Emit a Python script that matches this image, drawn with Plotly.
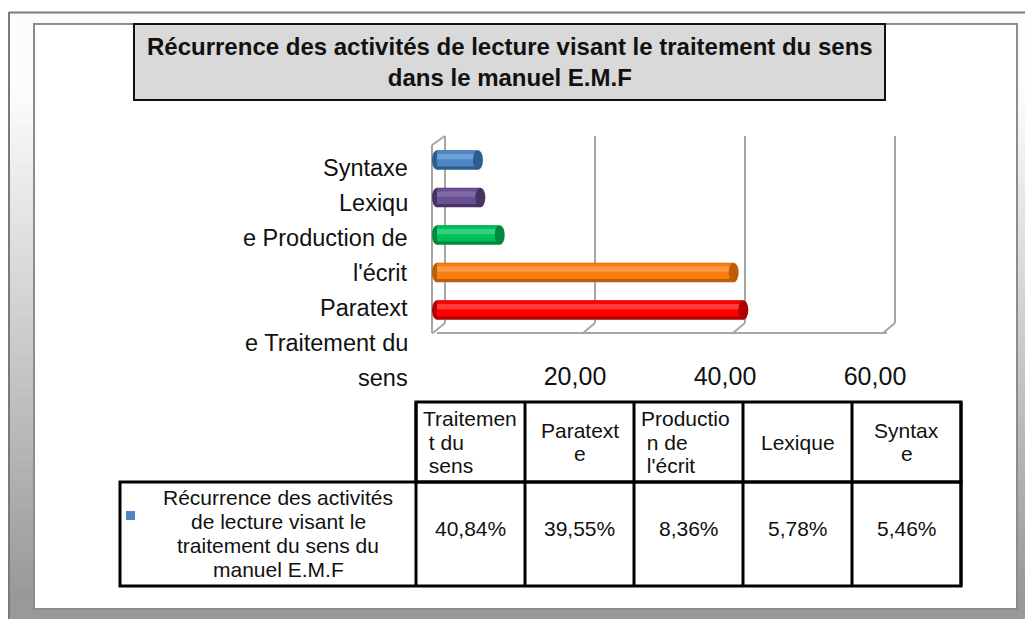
import plotly.graph_objects as go

# ---- data ----
categories = ["Traitement du sens", "Paratexte", "Production de l'écrit", "Lexique", "Syntaxe"]
values = [40.84, 39.55, 8.36, 5.78, 5.46]
series_name = "Récurrence des activités de lecture visant le traitement du sens du manuel E.M.F"
series_lines = ["Récurrence des activités", "de lecture visant le", "traitement du sens du", "manuel E.M.F"]
header_lines = [["Traitemen", "\u00a0t du", "\u00a0sens"], ["Paratext", "e"],
                ["Productio", "\u00a0n de", "\u00a0l'écrit"], ["Lexique"], ["Syntax", "e"]]
axis_label_lines = ["Syntaxe", "Lexiqu", "e Production de", "l'écrit", "Paratext", "e Traitement du", "sens"]
tick_vals = [20, 40, 60]
tick_text = ["20,00", "40,00", "60,00"]
title_text = "Récurrence des activités de lecture visant le traitement du sens<br>dans le manuel E.M.F"

# cylinder colours: base, dark (shadow / end face), light (highlight)
base_cols = ["#ff0000", "#fb7d10", "#00bf5a", "#6b5193", "#4d85c5"]
dark_cols = ["#b00000", "#bf5e08", "#00883f", "#463463", "#305c90"]
light_cols = ["#ff3c3c", "#ff9a42", "#30d27e", "#8168a8", "#6e9fd8"]

W, H = 1025, 619
FONT = "Liberation Sans, Arial, sans-serif"
NARROW = "Liberation Sans Narrow, Liberation Sans, Arial, sans-serif"


def px(x):
    return x / W


def py(y):
    return 1 - y / H


positions = list(range(len(categories)))

fig = go.Figure()
shapes = []
annotations = []

# ---- outer frame with vertical grey gradient ----
n_bands = 60
top_y, bot_y = 12, H
for i in range(n_bands):
    y0 = top_y + (bot_y - top_y) * i / n_bands
    y1 = min(bot_y, top_y + (bot_y - top_y) * (i + 1) / n_bands + 0.5)
    t = max(0.0, min(1.0, (y0 - 90) / 500))
    g = int(round(252 - (252 - 153) * t))
    shapes.append(dict(type="rect", xref="paper", yref="paper", layer="below",
                       x0=px(9), x1=1, y0=py(y1), y1=py(y0),
                       fillcolor=f"rgb({g},{g},{g})", line=dict(width=0)))
shapes.append(dict(type="line", xref="paper", yref="paper", layer="below",
                   x0=px(9), x1=1, y0=py(12.5), y1=py(12.5),
                   line=dict(color="#7a7a7a", width=2)))
shapes.append(dict(type="line", xref="paper", yref="paper", layer="below",
                   x0=px(9), x1=px(9), y0=py(12), y1=0,
                   line=dict(color="#7a7a7a", width=2)))
# inner white panel
shapes.append(dict(type="rect", xref="paper", yref="paper", layer="below",
                   x0=px(34), x1=px(1017), y0=py(609), y1=py(24),
                   fillcolor="white", line=dict(color="#8c8c8c", width=2)))

# ---- title box ----
shapes.append(dict(type="rect", xref="paper", yref="paper", layer="below",
                   x0=px(134), x1=px(885), y0=py(100), y1=py(24),
                   fillcolor="#d9d9d9", line=dict(color="#111111", width=2)))
annotations.append(dict(text="<b>" + title_text + "</b>", xref="paper", yref="paper",
                        x=px(510), y=py(62), xanchor="center", yanchor="middle",
                        showarrow=False, align="center",
                        font=dict(family=NARROW, size=24, color="#111111")))

# ---- 3D plot box (walls / floor) ----
grid_col = "#a6a6a6"
back_dx, front_dx = 8, -4
floor_front, floor_back, wall_top = 333, 323, 136
for v in [0] + tick_vals:
    shapes.append(dict(type="line", xref="x", xsizemode="pixel", xanchor=v,
                       x0=back_dx, x1=back_dx, yref="paper",
                       y0=py(floor_back), y1=py(wall_top), layer="below",
                       line=dict(color=grid_col, width=2)))
    shapes.append(dict(type="line", xref="x", xsizemode="pixel", xanchor=v,
                       x0=front_dx, x1=back_dx, yref="paper",
                       y0=py(floor_front), y1=py(floor_back), layer="below",
                       line=dict(color=grid_col, width=2)))
# floor front edge
shapes.append(dict(type="line", xref="x", x0=0, x1=60, yref="paper",
                   y0=py(floor_front), y1=py(floor_front), layer="below",
                   line=dict(color=grid_col, width=2)))
shapes.append(dict(type="line", xref="x", xsizemode="pixel", xanchor=0,
                   x0=front_dx - 1, x1=front_dx, yref="paper",
                   y0=py(floor_front), y1=py(floor_front), layer="below",
                   line=dict(color=grid_col, width=2)))
# left wall front edge and top
shapes.append(dict(type="line", xref="x", xsizemode="pixel", xanchor=0,
                   x0=front_dx - 1, x1=front_dx - 1, yref="paper",
                   y0=py(floor_front), y1=py(wall_top + 9), layer="below",
                   line=dict(color=grid_col, width=2)))
shapes.append(dict(type="line", xref="x", xsizemode="pixel", xanchor=0,
                   x0=front_dx - 1, x1=back_dx, yref="paper",
                   y0=py(wall_top + 9), y1=py(wall_top), layer="below",
                   line=dict(color=grid_col, width=2)))

# ---- cylinders ----
fig.add_trace(go.Bar(x=values, y=positions, orientation="h", base=0, width=0.52, offset=-0.26,
                     marker=dict(color=dark_cols, line=dict(width=0)), hoverinfo="skip",
                     showlegend=False))
fig.add_trace(go.Bar(x=values, y=positions, orientation="h", base=0, width=0.42, offset=-0.17,
                     marker=dict(color=base_cols, line=dict(width=0)), hoverinfo="skip",
                     showlegend=False))
fig.add_trace(go.Bar(x=values, y=positions, orientation="h", base=0, width=0.14, offset=0.02,
                     marker=dict(color=light_cols, line=dict(width=0)), hoverinfo="skip",
                     showlegend=False, name=series_name))

for p, v, bc, dc in zip(positions, values, base_cols, dark_cols):
    # rounded near end
    shapes.append(dict(type="circle", xref="x", xsizemode="pixel", xanchor=0, x0=-5, x1=5,
                       yref="y", y0=p - 0.26, y1=p + 0.26, layer="below",
                       fillcolor=dc, line=dict(width=0)))
    # visible end face
    shapes.append(dict(type="circle", xref="x", xsizemode="pixel", xanchor=v, x0=-5, x1=5,
                       yref="y", y0=p - 0.26, y1=p + 0.26, layer="above",
                       fillcolor=dc, line=dict(width=0)))

# ---- category labels (wrapped text block) ----
for i, line in enumerate(axis_label_lines):
    annotations.append(dict(text=line, xref="paper", yref="paper", x=px(410), y=py(168 + 35 * i),
                            xanchor="right", yanchor="middle", showarrow=False,
                            font=dict(family=FONT, size=23.5, color="#111111")))

# ---- data table ----
t_left, t_col0, col_w = 120, 416, 109
t_head_top, t_row_top, t_bottom = 402, 482, 586
n = len(categories)
t_right = t_col0 + col_w * n
blk = dict(color="#000000", width=3)
shapes.append(dict(type="rect", xref="paper", yref="paper", x0=px(t_col0), x1=px(t_right),
                   y0=py(t_row_top), y1=py(t_head_top), line=blk, layer="above"))
shapes.append(dict(type="rect", xref="paper", yref="paper", x0=px(t_left), x1=px(t_right),
                   y0=py(t_bottom), y1=py(t_row_top), line=blk, layer="above"))
for k in range(n + 1):
    xk = t_col0 + col_w * k
    shapes.append(dict(type="line", xref="paper", yref="paper", x0=px(xk), x1=px(xk),
                       y0=py(t_bottom), y1=py(t_head_top), line=blk, layer="above"))

tab_font = dict(family=NARROW, size=21, color="#111111")
for k, (lines, v) in enumerate(zip(header_lines, values)):
    cx = t_col0 + col_w * k + col_w / 2
    nl = len(lines)
    for j, ln in enumerate(lines):
        yy = (t_head_top + t_row_top) / 2 + (j - (nl - 1) / 2) * 23.5
        if nl == 3:
            annotations.append(dict(text=ln, xref="paper", yref="paper",
                                    x=px(t_col0 + col_w * k + 5), y=py(yy),
                                    xanchor="left", yanchor="middle", showarrow=False,
                                    font=tab_font))
        else:
            annotations.append(dict(text=ln, xref="paper", yref="paper", x=px(cx), y=py(yy),
                                    xanchor="center", yanchor="middle", showarrow=False,
                                    font=tab_font))
    annotations.append(dict(text=f"{v:.2f}".replace(".", ",") + "%", xref="paper", yref="paper",
                            x=px(cx), y=py(528), xanchor="center", yanchor="middle",
                            showarrow=False, font=tab_font))

for j, ln in enumerate(series_lines):
    annotations.append(dict(text=ln, xref="paper", yref="paper", x=px(278), y=py(497 + 24 * j),
                            xanchor="center", yanchor="middle", showarrow=False, font=tab_font))
shapes.append(dict(type="rect", xref="paper", yref="paper", x0=px(126), x1=px(135),
                   y0=py(520), y1=py(511), fillcolor=base_cols[4], line=dict(width=0),
                   layer="above"))

# ---- axes ----
# value axis: 7.5 px per unit, zero at x=437, with a small margin on both sides
unit = 7.5
x_lo, x_hi = -3, 63
y_bot_px = 310 + 37.5 / 2
y_top_px = 160 - 37.5 / 2
fig.update_layout(
    width=W, height=H, autosize=False,
    margin=dict(l=0, r=0, t=0, b=0),
    paper_bgcolor="white", plot_bgcolor="rgba(0,0,0,0)",
    barmode="overlay", showlegend=False,
    shapes=shapes, annotations=annotations,
    xaxis=dict(domain=[px(437 + unit * x_lo), px(437 + unit * x_hi)], range=[x_lo, x_hi],
               tickvals=tick_vals, ticktext=tick_text,
               showgrid=False, zeroline=False, showline=False, ticks="",
               ticklabelshift=-12, ticklabelstandoff=30,
               tickfont=dict(family=FONT, size=25, color="#111111"), fixedrange=True),
    yaxis=dict(domain=[py(y_bot_px), py(y_top_px)], range=[-0.5, 4.5],
               showgrid=False, zeroline=False, showline=False, showticklabels=False,
               ticks="", fixedrange=True),
)

fig.write_html("out.html", config=dict(displayModeBar=False),
               post_script="document.body.style.margin='0';document.body.style.overflow='hidden';")
